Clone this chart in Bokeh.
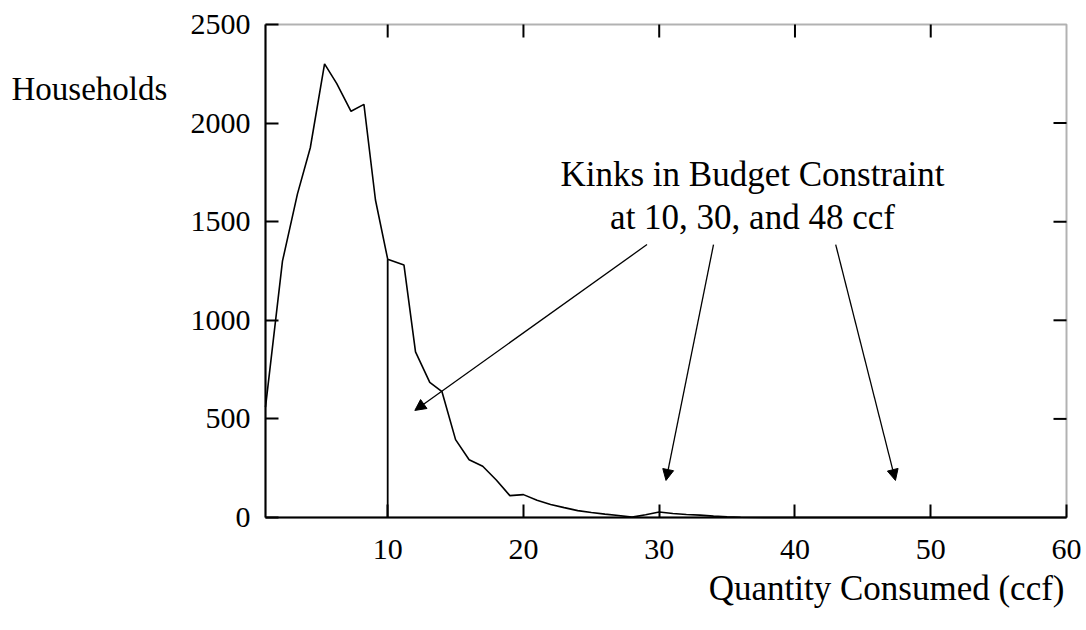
from bokeh.plotting import figure
from bokeh.models import (LinearAxis, FixedTicker, Label, Arrow, NormalHead,
                          ColumnDataSource, Range1d, BoxAnnotation)
from bokeh.embed import file_html
from bokeh.resources import INLINE

# ---- data ----
qty = [1.0, 2.25, 3.35, 4.3, 5.35, 6.25, 7.3, 8.25, 9.1, 10.0, 11.2, 12.05,
       13.1, 14.0, 15.0, 16.0, 17.0, 18.0, 19.0, 20.0, 21.0, 22.0, 23.0,
       24.0, 25.0, 26.0, 27.0, 28.0, 29.0, 30.0, 31.0, 32.0, 33.0, 34.0,
       35.0, 36.0, 38.0, 40.0, 45.0, 50.0, 55.0, 60.0]
households = [560, 1300, 1640, 1875, 2300, 2200, 2060, 2095, 1610, 1310, 1280,
              840, 685, 638, 395, 293, 260, 190, 111, 116, 87, 66, 50,
              35, 25, 17, 10, 2, 14, 28, 20, 15, 12, 7,
              3, 1, 0, 0, 0, 0, 0, 0]
kink_x = [10.0]
kink_top = [1310]
x_ticks = [10, 20, 30, 40, 50, 60]
y_ticks = [0, 500, 1000, 1500, 2000, 2500]
x_lo, x_hi = 1, 60
y_lo, y_hi = 0, 2500
arrow_tail_x = [29.1, 34.0, 43.0]
arrow_tail_y = [1384, 1384, 1384]
arrow_head_x = [12.0, 30.5, 47.4]
arrow_head_y = [543, 188, 188]
note_lines = ["Kinks in Budget Constraint", "at 10, 30, and 48 ccf"]
y_title = "Households"
x_title = "Quantity Consumed (ccf)"

FONT = "Liberation Serif"

# pixel layout of the plotting box inside the 1086 x 630 canvas
W, H = 1086, 630
BOX_L, BOX_R, BOX_T, BOX_B = 265, 1066, 24, 517
sx = (BOX_R - BOX_L) / (x_hi - x_lo)
sy = (BOX_B - BOX_T) / (y_hi - y_lo)
xr = Range1d(x_lo - BOX_L / sx, x_hi + (W - BOX_R) / sx)
yr = Range1d(y_lo - (H - BOX_B) / sy, y_hi + BOX_T / sy)

p = figure(width=W, height=H, x_range=xr, y_range=yr,
           output_backend="svg", toolbar_location=None,
           min_border_left=0, min_border_right=0, min_border_top=0,
           min_border_bottom=0, x_axis_location=None, y_axis_location=None)
p.grid.visible = False
p.outline_line_color = None
p.background_fill_color = "white"
p.border_fill_color = "white"

TICK = 13

def style(ax):
    ax.major_tick_in = TICK
    ax.major_tick_out = 0
    ax.minor_tick_line_color = None
    ax.axis_line_color = "black"
    ax.axis_line_width = 2
    ax.major_tick_line_width = 2
    ax.major_tick_line_color = "black"
    ax.major_label_text_font = FONT
    ax.major_label_text_font_size = "30px"
    ax.major_label_text_color = "black"

xb = LinearAxis(ticker=FixedTicker(ticks=x_ticks), fixed_location=y_lo,
                bounds=(x_lo, x_hi))
style(xb)
xb.major_label_standoff = 22
p.add_layout(xb, "below")

yl = LinearAxis(ticker=FixedTicker(ticks=y_ticks), fixed_location=x_lo,
                bounds=(y_lo, y_hi))
style(yl)
yl.major_label_standoff = 15
p.add_layout(yl, "left")

# frame box
p.add_layout(BoxAnnotation(left=x_lo, right=x_hi, bottom=y_lo, top=y_hi,
                           fill_color=None, line_color="black", line_width=2))

# inward ticks on the top and right sides
tx = [t for t in x_ticks if x_lo < t < x_hi]
p.segment(x0=tx, y0=[y_hi] * len(tx), x1=tx, y1=[y_hi - TICK / sy] * len(tx),
          line_color="black", line_width=2)
ty = [t for t in y_ticks if y_lo < t < y_hi]
p.segment(x0=[x_hi] * len(ty), y0=ty, x1=[x_hi - TICK / sx] * len(ty), y1=ty,
          line_color="black", line_width=2)

# data
p.line(qty, households, line_color="black", line_width=1.6)
p.segment(x0=kink_x, y0=[y_lo] * len(kink_x), x1=kink_x, y1=kink_top,
          line_color="black", line_width=1.8)

src = ColumnDataSource(dict(x0=arrow_tail_x, y0=arrow_tail_y,
                            x1=arrow_head_x, y1=arrow_head_y))
p.add_layout(Arrow(x_start="x0", y_start="y0", x_end="x1", y_end="y1", source=src,
                   line_color="black", line_width=1.3,
                   end=NormalHead(size=11, fill_color="black", line_color="black",
                                  line_width=1)))

def px_to_x(px):
    return x_lo + (px - BOX_L) / sx

def px_to_y(py):
    return y_lo + (BOX_B - py) / sy

p.add_layout(Label(x=px_to_x(752), y=px_to_y(193), text=note_lines[0],
                   text_align="center", text_font=FONT, text_font_size="35px",
                   text_color="black"))
p.add_layout(Label(x=px_to_x(752), y=px_to_y(236), text=note_lines[1],
                   text_align="center", text_font=FONT, text_font_size="35px",
                   text_color="black"))
p.add_layout(Label(x=px_to_x(11), y=px_to_y(106), text=y_title, text_align="left",
                   text_font=FONT, text_font_size="33px", text_color="black"))
p.add_layout(Label(x=px_to_x(1064), y=px_to_y(607), text=x_title, text_align="right",
                   text_font=FONT, text_font_size="35px", text_color="black"))

open("out.html", "w").write(file_html(p, INLINE))
